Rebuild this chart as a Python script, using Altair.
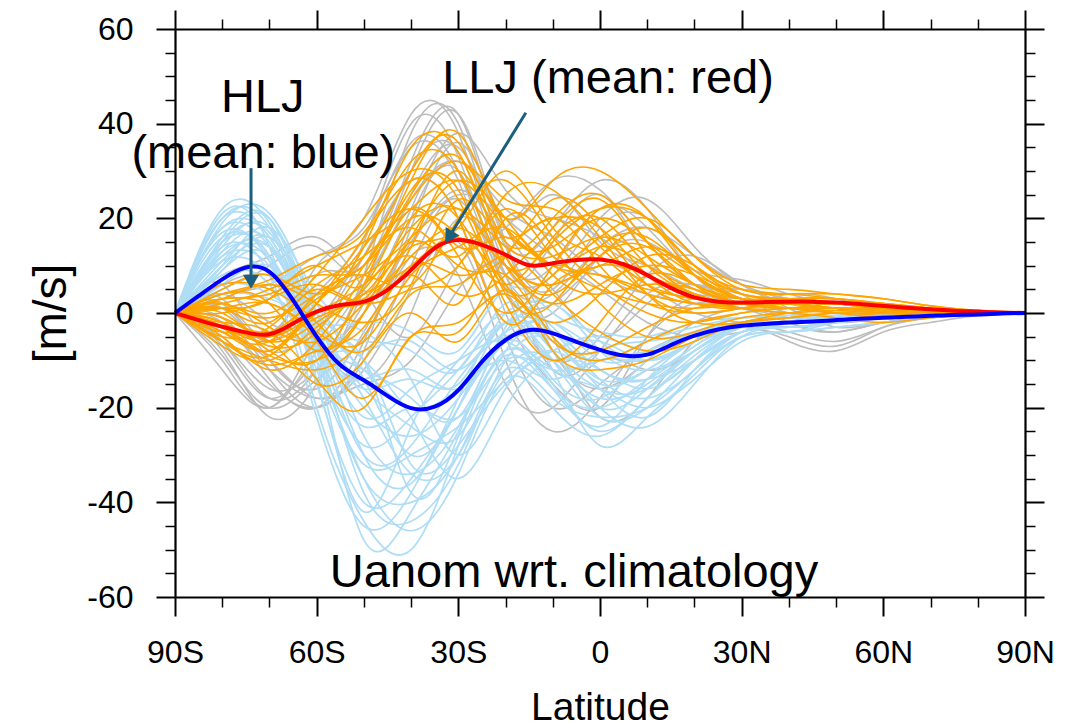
import altair as alt
import pandas as pd

# ---------------------------------------------------------------------------
# Zonal-wind anomaly profiles (m/s) against latitude
# ---------------------------------------------------------------------------
member_lats = [-90, -80, -70, -60, -50, -40, -30, -20, -10, 0, 10, 20, 30, 40, 50, 60, 70, 80, 90]
mean_lats = [-90, -85, -80, -75, -70, -65, -60, -55, -50, -45, -40, -35, -30, -25, -20, -15, -10, -5,
             0, 5, 10, 15, 20, 25, 30, 35, 40, 45, 50, 55, 60, 65, 70, 75, 80, 85, 90]

# ensemble mean of the high-latitude-jet members (blue)
hlj_mean = [0, 3.6, 7.1, 9.6, 8.7, 2.7, -5.0, -11.0, -14.2, -17.5, -20.1, -19.8, -16.3, -10.3, -5.7,
            -3.6, -4.3, -6.1, -7.8, -9.0, -8.8, -6.8, -4.8, -3.5, -2.7, -2.3, -2.0, -1.8, -1.5, -1.2,
            -1.0, -0.8, -0.6, -0.4, -0.3, -0.1, 0]
# ensemble mean of the low-latitude-jet members (red)
llj_mean = [0, -1.5, -2.9, -4.1, -4.5, -2.2, 0.3, 1.7, 2.4, 4.9, 9.1, 13.7, 15.4, 14.4, 12.3, 10.1,
            10.5, 11.2, 11.3, 10.3, 8.0, 5.3, 3.3, 2.4, 2.2, 2.3, 2.4, 2.4, 2.2, 1.9, 1.5, 1.1, 0.8,
            0.5, 0.3, 0.1, 0]

# remaining members (gray)
other_members = [
    [0, -6, -18, -12, 8, 38, 40, 12, 10, 22, 18, 8, 3, 2, 1, 0.5, 0.3, 0.1, 0],
    [0, -8, -22, -15, 5, 30, 42, 15, 5, 18, 20, 10, 4, -2, -4, -2, -1, 0, 0],
    [0, 5, 10, 14, 8, 25, 35, 20, 25, 15, 10, 5, 2, 3, 2, 1, 0.5, 0.2, 0],
    [0, -5, -15, -20, -8, 20, 30, 5, -10, -5, 8, 12, 6, 1, -3, -2, -1, 0, 0],
    [0, 3, -5, 10, 18, 35, 28, 0, -15, -20, -5, 3, 2, 4, 3, 1, 0.5, 0, 0],
    [0, -10, -20, -5, 12, 28, 20, -5, -20, -15, -8, -4, -3, -5, -7, -3, -1, -0.5, 0],
    [0, 8, 12, 16, 5, -5, 10, 18, 28, 26, 15, 6, 5, 2, 1, 0.5, 0, 0, 0],
    [0, -3, -12, -18, -15, -10, 5, 10, -5, -22, -18, -6, -2, -3, -2, -1, -0.5, 0, 0],
    [0, 2, -8, -2, 15, 40, 33, 8, 15, 25, 12, 4, 1, 0, -1, -1, -0.5, 0, 0],
    [0, -7, -18, -10, 0, 15, 25, 20, 12, 5, -2, -5, -4, -2, -1, 0, 0, 0, 0],
    [0, 4, 6, 12, 20, 42, 38, 10, 8, 20, 24, 14, 6, 3, 2, 1, 0.5, 0.2, 0],
    [0, -4, -10, -18, -12, 5, 15, -10, -25, -18, -5, 2, 1, -2, -4, -2, -1, 0, 0],
    [0, 6, -4, 8, 10, 32, 42, 15, 18, 28, 22, 8, 2, 1, 1, 0.5, 0.2, 0, 0],
    [0, -9, -20, -14, -5, 12, 8, -15, -20, -10, -12, -8, -3, -6, -8, -4, -2, -0.5, 0],
    [0, 1, -6, 4, 16, 36, 30, 5, 0, 12, 15, 9, 7, 4, 2, 1, 0.5, 0, 0],
    [0, -2, -14, -20, -6, 18, 36, 18, 5, -5, 2, 6, 3, 0, -2, -1, 0, 0, 0],
    [0, -12, -20, -8, 6, 24, 32, 22, 16, 8, 4, 2, 1, -1, -2, -1, -0.5, 0, 0],
    [0, 2, -10, -16, -4, 14, 26, 14, -8, -16, -10, -2, 1, 2, 1, 0.5, 0, 0, 0],
    [0, -6, -16, -12, 2, 22, 38, 26, 20, 16, 8, 4, 3, 2, 1, 1, 0.5, 0, 0],
    [0, 4, -2, -8, -14, 0, 20, 8, -12, -8, 4, 6, 4, 2, 0, -1, -0.5, 0, 0],
    [0, -1, -12, -20, -10, 10, 24, 6, 2, 10, 6, 0, -2, -4, -6, -3, -1, 0, 0],
    [0, 6, 8, 4, 12, 30, 34, 8, 4, 14, 18, 12, 6, 3, 2, 1, 0.5, 0, 0],
]

# high-latitude-jet members (light blue)
hlj_members = [
    [0, 15, 12, -15, -40, -35, -20, -5, -10, -18, -15, -8, -3, -2, -1, -0.5, -0.3, 0, 0],
    [0, 18, 16, -10, -48, -42, -25, -8, -15, -25, -18, -10, -4, -3, -2, -1, -0.5, 0, 0],
    [0, 12, 10, -5, -12, -18, -22, -3, 2, -6, -10, -6, -2, -2, -1, -1, -0.5, 0, 0],
    [0, 20, 18, -8, -35, -40, -30, -12, -18, -22, -20, -12, -5, -4, -3, -2, -1, -0.3, 0],
    [0, 10, 14, 0, -6, -8, -12, 2, -5, -10, -6, -3, -1, -1, -0.5, 0, 0, 0, 0],
    [0, 16, 20, -3, -16, -14, -15, 0, -3, -12, -14, -7, -3, -2, -2, -1, -0.5, 0, 0],
    [0, 8, 6, -8, -10, -32, -28, -15, -8, -5, -8, -5, -2, -1, -1, -0.5, 0, 0, 0],
    [0, 14, 8, -22, -45, -38, -18, -2, -12, -28, -22, -14, -6, -4, -3, -2, -1, -0.5, 0],
    [0, 6, 4, -2, -2, -4, -8, 5, 0, -4, -5, -2, -1, -0.5, 0, 0, 0, 0, 0],
    [0, 22, 19, -6, -38, -44, -32, -10, -6, -15, -12, -6, -2, -2, -1, -0.5, 0, 0, 0],
    [0, 11, 16, 2, -10, -22, -35, -20, -10, -12, -16, -10, -4, -3, -2, -1, -0.5, 0, 0],
    [0, 17, 11, -14, -42, -24, -10, 0, -8, -20, -24, -15, -5, -3, -2, -1, -0.5, 0, 0],
    [0, 9, 12, -4, -10, -38, -26, -6, -14, -18, -10, -4, -2, -1, -1, -0.5, 0, 0, 0],
    [0, 13, 15, -7, -14, -12, -16, -4, 2, -8, -12, -8, -3, -2, -1, -1, -0.5, 0, 0],
    [0, 19, 21, 0, -26, -34, -24, -9, -16, -20, -14, -7, -2, -2, -1, -1, -0.3, 0, 0],
    [0, 7, 9, -10, -35, -46, -34, -14, -20, -26, -18, -9, -3, -2, -1, -1, -0.5, 0, 0],
    [0, 15, 17, -2, -8, -6, -12, -2, -4, -14, -18, -12, -4, -3, -2, -1, -0.5, 0, 0],
    [0, 4, 3, -6, -30, -36, -20, -6, -2, -10, -8, -4, -1, -1, -0.5, 0, 0, 0, 0],
    [0, 21, 14, -20, -44, -50, -28, -8, -12, -16, -20, -13, -5, -4, -2, -1, -0.5, 0, 0],
    [0, 10, 18, 4, -4, -14, -30, -16, -8, -6, -10, -6, -2, -1, -1, -0.5, 0, 0, 0],
    [0, 12, 14, -4, -20, -26, -18, -6, -6, -14, -12, -6, -2, -1, -1, -0.5, 0, 0, 0],
    [0, 16, 12, -8, -24, -20, -22, -10, -12, -10, -8, -4, -2, -1, -1, -0.5, 0, 0, 0],
    [0, 9, 16, 2, -14, -30, -20, -2, -8, -16, -16, -8, -3, -2, -1, -1, -0.5, 0, 0],
    [0, 18, 14, -6, -30, -28, -14, -4, -2, -8, -10, -6, -2, -1, -1, -0.5, 0, 0, 0],
    [0, 14, 18, -2, -18, -34, -30, -12, -10, -20, -16, -8, -3, -2, -1, -1, -0.5, 0, 0],
    [0, 11, 8, -10, -28, -22, -12, -2, -10, -22, -20, -10, -3, -2, -1, -0.5, 0, 0, 0],
    [0, 20, 16, -4, -22, -16, -10, -6, -16, -24, -14, -6, -2, -2, -1, -0.5, 0, 0, 0],
    [0, 6, 10, -2, -16, -24, -26, -8, -4, -12, -14, -10, -4, -2, -1, -0.5, 0, 0, 0],
    [0, 15, 20, 0, -12, -20, -16, -10, -14, -8, -6, -4, -2, -1, -1, -0.5, 0, 0, 0],
    [0, 13, 11, -12, -32, -30, -24, -14, -8, -16, -22, -12, -4, -3, -2, -1, -0.5, 0, 0],
]

# low-latitude-jet members (orange)
llj_members = [
    [0, -3, -8, 2, 12, 30, 36, 15, 20, 25, 15, 6, 3, 3, 2, 1, 0.5, 0, 0],
    [0, 2, 5, 10, 15, 22, 28, 18, 10, 5, 2, 1, 2, 3, 2, 1, 0.5, 0.2, 0],
    [0, -6, -10, -12, -5, 10, 8, 8, -5, -10, -6, -2, 0, 1, 1, 0, 0, 0, 0],
    [0, 4, 7, 12, 17, 32, 30, 10, 15, 22, 20, 10, 4, 3, 2, 2, 1, 0.5, 0],
    [0, -2, -4, -14, -20, -5, -4, 12, 20, 18, 8, 2, 1, 2, 2, 1, 0.5, 0, 0],
    [0, -5, -12, -6, 8, 25, 33, 20, 28, 30, 22, 12, 6, 5, 4, 3, 1.5, 0.5, 0],
    [0, 1, -2, 5, 3, 15, 12, 22, 12, 8, 5, 3, 1, 0, -1, -2, -1, -0.3, 0],
    [0, -4, -6, -15, -10, 0, -6, 5, -8, -12, -10, -5, -2, 0, 1, 0.5, 0, 0, 0],
    [0, 3, 4, 8, 10, 28, 38, 18, 14, 20, 15, 8, 3, 2, 1, 1, 0.5, 0, 0],
    [0, -7, -10, -3, 5, 18, 22, 10, 2, 6, 10, 8, 4, 3, 3, 2, 1, 0.3, 0],
    [0, 0, 3, 6, 2, 5, 10, 25, 26, 16, 4, -2, -2, -1, 0, 0.5, 0.3, 0, 0],
    [0, -3, -9, -10, 0, 20, 20, 2, -10, -2, 8, 6, 2, 1, 0, -1, -0.5, 0, 0],
    [0, 5, 8, 4, 14, 35, 34, 12, 6, 12, 18, 10, 5, 4, 3, 2, 1, 0.3, 0],
    [0, -1, -5, 0, 6, 12, 4, 8, 18, 24, 12, 4, 2, 2, 1, 1, 0.5, 0, 0],
    [0, -6, -11, -8, -3, 8, 2, 20, 14, 2, -5, -4, -1, 0, 0.5, 0, 0, 0, 0],
    [0, 2, 0, 8, 20, 30, 24, 5, 8, 16, 20, 12, 5, 4, 4, 3, 1.5, 0.5, 0],
    [0, -2, -7, -4, 10, 24, 32, 24, 22, 14, 6, 3, 2, 3, 3, 2, 1, 0.3, 0],
    [0, 6, 5, -2, -8, 4, 6, 12, 4, -4, -8, -6, -2, -1, 0, -0.5, 0, 0, 0],
    [0, -4, -8, 2, 16, 28, 20, -2, 6, 10, 14, 9, 3, 2, 2, 1, 0.5, 0.2, 0],
    [0, 1, 3, 10, 6, 22, 14, 16, 10, 14, 10, 5, 2, 2, 2, 1.5, 0.8, 0.3, 0],
    [0, -3, -6, -1, 4, 14, 18, 30, 18, 12, 4, 0, 1, 2, 2, 1, 0.5, 0, 0],
    [0, 3, 2, -6, -18, -5, -2, 4, -6, -8, -3, 1, 2, 1, 0, 0, 0, 0, 0],
    [0, -1, -4, 3, 8, 16, 22, 14, 12, 16, 12, 6, 3, 2, 2, 1, 0.5, 0.2, 0],
    [0, 2, -3, -6, 2, 12, 18, 10, 6, 10, 8, 4, 2, 2, 1, 1, 0.5, 0, 0],
    [0, -4, -6, 4, 10, 20, 16, 6, 16, 20, 10, 4, 2, 3, 2, 1, 0.5, 0, 0],
    [0, 1, 2, -4, -6, 8, 14, 18, 8, 4, 6, 5, 2, 1, 1, 0.5, 0.3, 0, 0],
    [0, -2, -8, -10, 6, 26, 26, 4, 2, 14, 16, 8, 3, 2, 2, 1, 0.5, 0, 0],
    [0, 3, 6, 2, -2, 6, 24, 16, 20, 10, 2, 0, 1, 2, 1, 1, 0.5, 0, 0],
    [0, -5, -3, 6, 12, 18, 10, 12, 24, 18, 6, 2, 2, 2, 2, 1, 0.5, 0.2, 0],
    [0, 0, -6, -2, 4, 10, 16, 6, -2, 4, 12, 10, 4, 3, 2, 1, 0.5, 0, 0],
    [0, 4, 2, -8, 0, 16, 28, 20, 10, 8, 4, 2, 1, 1, 2, 1, 0.5, 0, 0],
    [0, -3, -5, 2, 14, 22, 12, 0, 10, 22, 20, 8, 3, 1, 1, 0.5, 0, 0, 0],
    [0, 1, -1, 4, 8, 6, 20, 28, 16, 6, 0, -2, 0, 1, 1, 0.5, 0, 0, 0],
    [0, -6, -9, 0, 2, 14, 30, 12, 4, 12, 14, 6, 2, 2, 1, 1, 0.5, 0, 0],
]

x_major = [-90, -60, -30, 0, 30, 60, 90]
x_minor = [-80, -70, -50, -40, -20, -10, 10, 20, 40, 50, 70, 80]
y_major = [-60, -40, -20, 0, 20, 40, 60]
y_minor = [-55, -50, -45, -35, -30, -25, -15, -10, -5, 5, 10, 15, 25, 30, 35, 45, 50, 55]


def long_form(members, prefix):
    rows = []
    for i, vals in enumerate(members):
        for lat, v in zip(member_lats, vals):
            rows.append({"id": f"{prefix}{i}", "lat": lat, "u": v})
    return pd.DataFrame(rows)


df_other = long_form(other_members, "o")
df_hlj = long_form(hlj_members, "h")
df_llj = long_form(llj_members, "l")
df_hlj_mean = pd.DataFrame({"lat": mean_lats, "u": hlj_mean})
df_llj_mean = pd.DataFrame({"lat": mean_lats, "u": llj_mean})

FONT = "Liberation Sans"
ARROW = "#1b5f7e"
XS = alt.Scale(domain=[-90, 90], nice=False, zero=False)
YS = alt.Scale(domain=[-60, 60], nice=False, zero=False)

LAT_LABEL = "datum.value == 0 ? '0' : (datum.value < 0 ? (-datum.value) + 'S' : datum.value + 'N')"


def axis(orient, values, major, labels=False, **extra):
    opts = dict(
        orient=orient, values=values, grid=False, zindex=3,
        tickSize=19 if major else 10, tickWidth=2 if major else 1.5, tickColor="black",
        domain=major, domainColor="black", domainWidth=2.2,
        labels=labels, title="",
    )
    opts.update(extra)
    return alt.Axis(**opts)


x_bottom = axis("bottom", x_major, True, labels=True, labelExpr=LAT_LABEL,
                labelFontSize=32, labelFont=FONT, labelColor="black",
                labelBaseline="alphabetic", labelPadding=46, labelFlush=False,
                labelOverlap=False,
                title="Latitude", titleFontSize=39, titleFont=FONT,
                titleFontWeight="normal", titleColor="black",
                titleBaseline="alphabetic", titleY=122)
y_left = axis("left", y_major, True, labels=True, labelExpr="'' + datum.value",
              labelFontSize=32, labelFont=FONT, labelColor="black",
              labelBaseline="middle", labelPadding=23, labelFlush=False,
              labelOverlap=False,
              title="[m/s]", titleFontSize=46, titleFont=FONT,
              titleFontWeight="normal", titleColor="black",
              titleBaseline="alphabetic", titleX=-110, titleY=284, titleAngle=270)


def lines(df, color, width, xax, yax):
    return alt.Chart(df).mark_line(interpolate="natural", strokeWidth=width, color=color,
                                   clip=True).encode(
        x=alt.X("lat:Q", scale=XS, axis=xax),
        y=alt.Y("u:Q", scale=YS, axis=yax),
        detail="id:N",
    )


gray = lines(df_other, "#bdbdbd", 1.6, x_bottom, y_left)
blue = lines(df_hlj, "#afddf6", 1.7, axis("bottom", x_minor, False), axis("left", y_minor, False))
orange = lines(df_llj, "#ffa500", 1.6, axis("top", x_major, True), axis("right", y_major, True))

red_mean = alt.Chart(df_llj_mean).mark_line(interpolate="natural", strokeWidth=4, color="#ff0000").encode(
    x=alt.X("lat:Q", scale=XS, axis=axis("top", x_minor, False)),
    y=alt.Y("u:Q", scale=YS, axis=axis("right", y_minor, False)),
)
blue_mean = alt.Chart(df_hlj_mean).mark_line(interpolate="natural", strokeWidth=4, color="#0000ff").encode(
    x=alt.X("lat:Q", scale=XS, axis=None),
    y=alt.Y("u:Q", scale=YS, axis=None),
)


def label(text, lat, u):
    return alt.Chart(pd.DataFrame({"t": [text]})).mark_text(
        fontSize=47, font=FONT, color="black", align="center", baseline="alphabetic"
    ).encode(
        x=alt.datum(lat, scale=XS, axis=None),
        y=alt.datum(u, scale=YS, axis=None),
        text="t:N",
    )


def arrow(lat0, u0, lat1, u1, angle):
    shaft = alt.Chart(pd.DataFrame({"a": [0]})).mark_rule(strokeWidth=3, color=ARROW).encode(
        x=alt.datum(lat0, scale=XS, axis=None), y=alt.datum(u0, scale=YS, axis=None),
        x2=alt.datum(lat1), y2=alt.datum(u1),
    )
    head = alt.Chart(pd.DataFrame({"a": [0]})).mark_point(
        shape="triangle-up", filled=True, size=260, color=ARROW, opacity=1, angle=angle
    ).encode(
        x=alt.datum(lat1, scale=XS, axis=None), y=alt.datum(u1, scale=YS, axis=None),
    )
    return shaft + head


chart = alt.layer(
    gray, blue, orange, red_mean, blue_mean,
    arrow(-73.9, 30.6, -73.9, 6.6, 180),
    arrow(-15.7, 42.3, -32.0, 16.0, 211.9),
    label("HLJ", -71.4, 42.5),
    label("(mean: blue)", -71.3, 30.6),
    label("LLJ (mean: red)", 1.7, 46.5),
    label("Uanom wrt. climatology", -5.5, -57.9),
).resolve_axis(
    x="independent", y="independent"
).properties(
    width=850, height=568,
    autosize=alt.AutoSizeParams(type="none"),
    padding={"left": 175, "top": 29, "right": 46, "bottom": 129},
    background="white",
).configure(
    font=FONT
).configure_view(
    stroke=None
)

chart.save("out.html", embed_options={"renderer": "svg", "actions": False})
